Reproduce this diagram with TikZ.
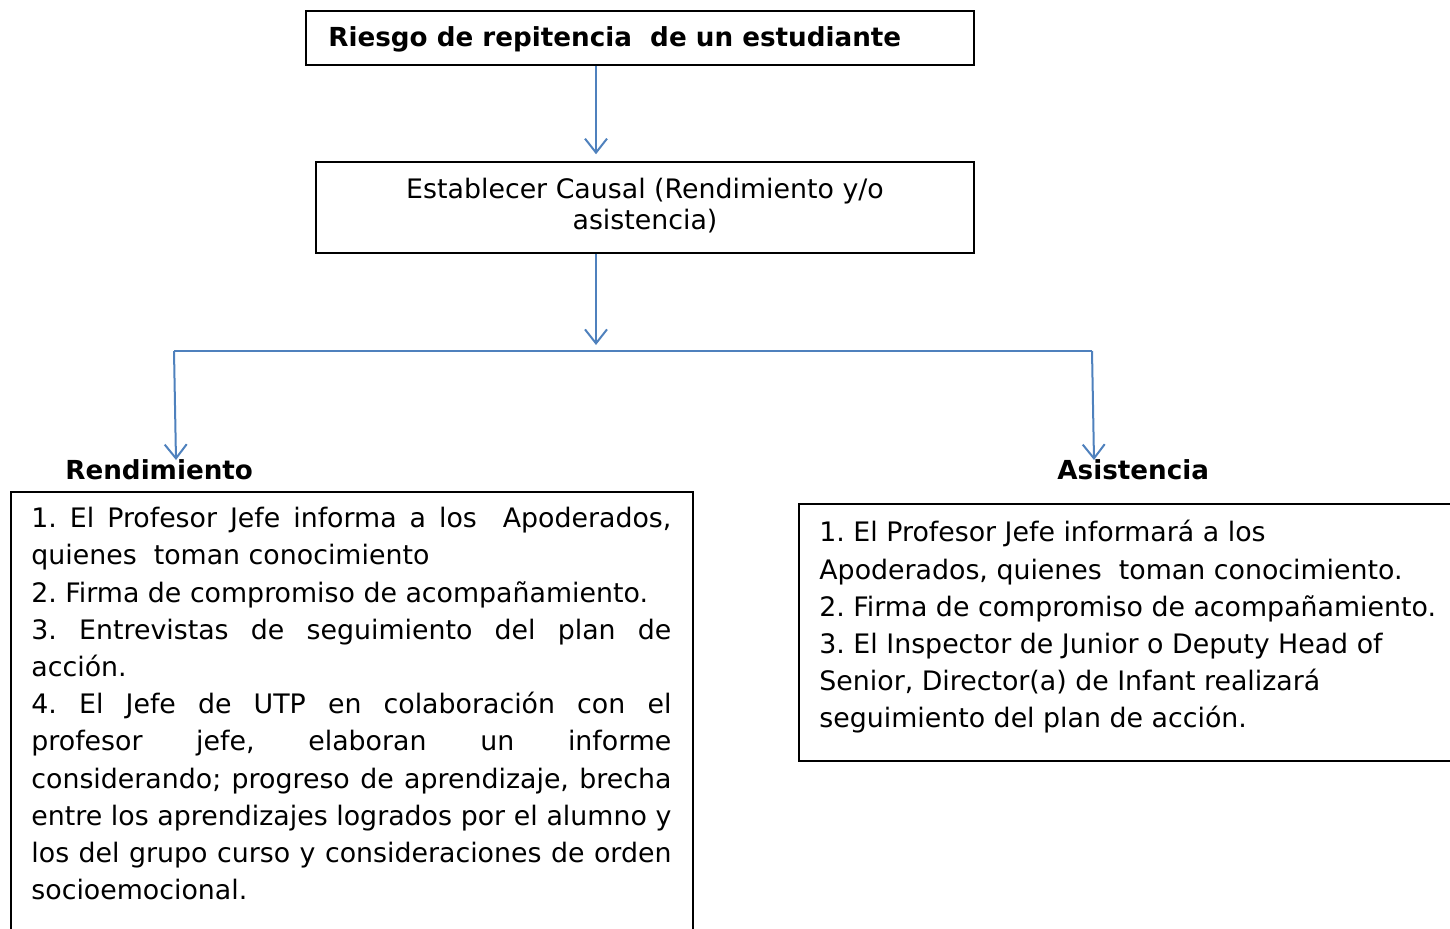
\documentclass[tikz,border=0pt]{standalone}
\usepackage{fontspec}
\setmainfont{DejaVu Sans}
\usetikzlibrary{arrows.meta}
\definecolor{arrowblue}{HTML}{4F81BD}
\frenchspacing
\begin{document}
\begin{tikzpicture}[x=0.5pt,y=-0.5pt,
  boxline/.style={draw=black,line width=0.75pt,inner sep=0pt,rectangle},
  arr/.style={draw=arrowblue,line width=1pt,-{Straight Barb[length=7pt,width=11pt,line width=1pt]}},
  link/.style={draw=arrowblue,line width=1pt},
  txt/.style={font=\fontsize{13.4}{18.6}\selectfont\frenchspacing,inner sep=0pt},
  ttl/.style={font=\fontsize{13.1}{18.6}\selectfont\bfseries,inner sep=0pt}]
\useasboundingbox (0,0) rectangle (1450,928);
\clip (0,0) rectangle (1450,928);
% top box
\node[boxline,minimum width=334pt,minimum height=27pt] (b1) at (640,38) {};
\node[ttl,anchor=west] (t1) at (328,39) {Riesgo de repitencia\ \ de un estudiante};
% second box
\node[boxline,minimum width=329pt,minimum height=45.5pt] (b2) at (645,207.5) {};
\node[txt,align=center,font=\fontsize{13.4}{15.5}\selectfont] (t2) at (645,206) {Establecer Causal (Rendimiento y/o\\asistencia)};
% connectors
\coordinate (cx) at (596,0);
\coordinate (split) at (596,351);
\coordinate (jl) at (174,351);
\coordinate (jr) at (1092,351);
\coordinate (el) at (176,460);
\coordinate (er) at (1094,460);
\draw[arr] (b1.south -| cx) -- ([yshift=3.5pt]b2.north -| cx);
\draw[arr] (b2.south -| cx) -- ([yshift=3pt]split);
\draw[link] (jl) -- (jr);
\draw[arr] (jl) -- (el);
\draw[arr] (jr) -- (er);
% titles
\node[ttl,anchor=west] (rt) at (65,470) {Rendimiento};
\node[ttl,anchor=west] (at) at (1057,470) {Asistencia};
% left box
\node[boxline,anchor=north west,minimum width=341pt,minimum height=235pt] (lb) at (10,491) {};
\node[txt,anchor=north west,align=left] (lt) at (31,507) {%
\makebox[320pt][s]{1. El Profesor Jefe informa a los\ \ Apoderados,}\\
quienes\ \ toman conocimiento\\
2. Firma de compromiso de acompañamiento.\\
\makebox[320pt][s]{3. Entrevistas de seguimiento del plan de}\\
acción.\\
\makebox[320pt][s]{4. El Jefe de UTP en colaboración con el}\\
\makebox[320pt][s]{profesor jefe, elaboran un informe}\\
\makebox[320pt][s]{considerando; progreso de aprendizaje, brecha}\\
\makebox[320pt][s]{entre los aprendizajes logrados por el alumno y}\\
\makebox[320pt][s]{los del grupo curso y consideraciones de orden}\\
socioemocional.};
% right box
\node[boxline,anchor=north west,minimum width=335pt,minimum height=128.5pt] (rb) at (798,503) {};
\node[txt,anchor=north west,align=left] (rtx) at (819,520) {%
1. El Profesor Jefe informará a los\\
Apoderados, quienes\ \ toman conocimiento.\\
2. Firma de compromiso de acompañamiento.\\
3. El Inspector de Junior o Deputy Head of\\
Senior, Director(a) de Infant realizará\\
seguimiento del plan de acción.};
\end{tikzpicture}
\end{document}
